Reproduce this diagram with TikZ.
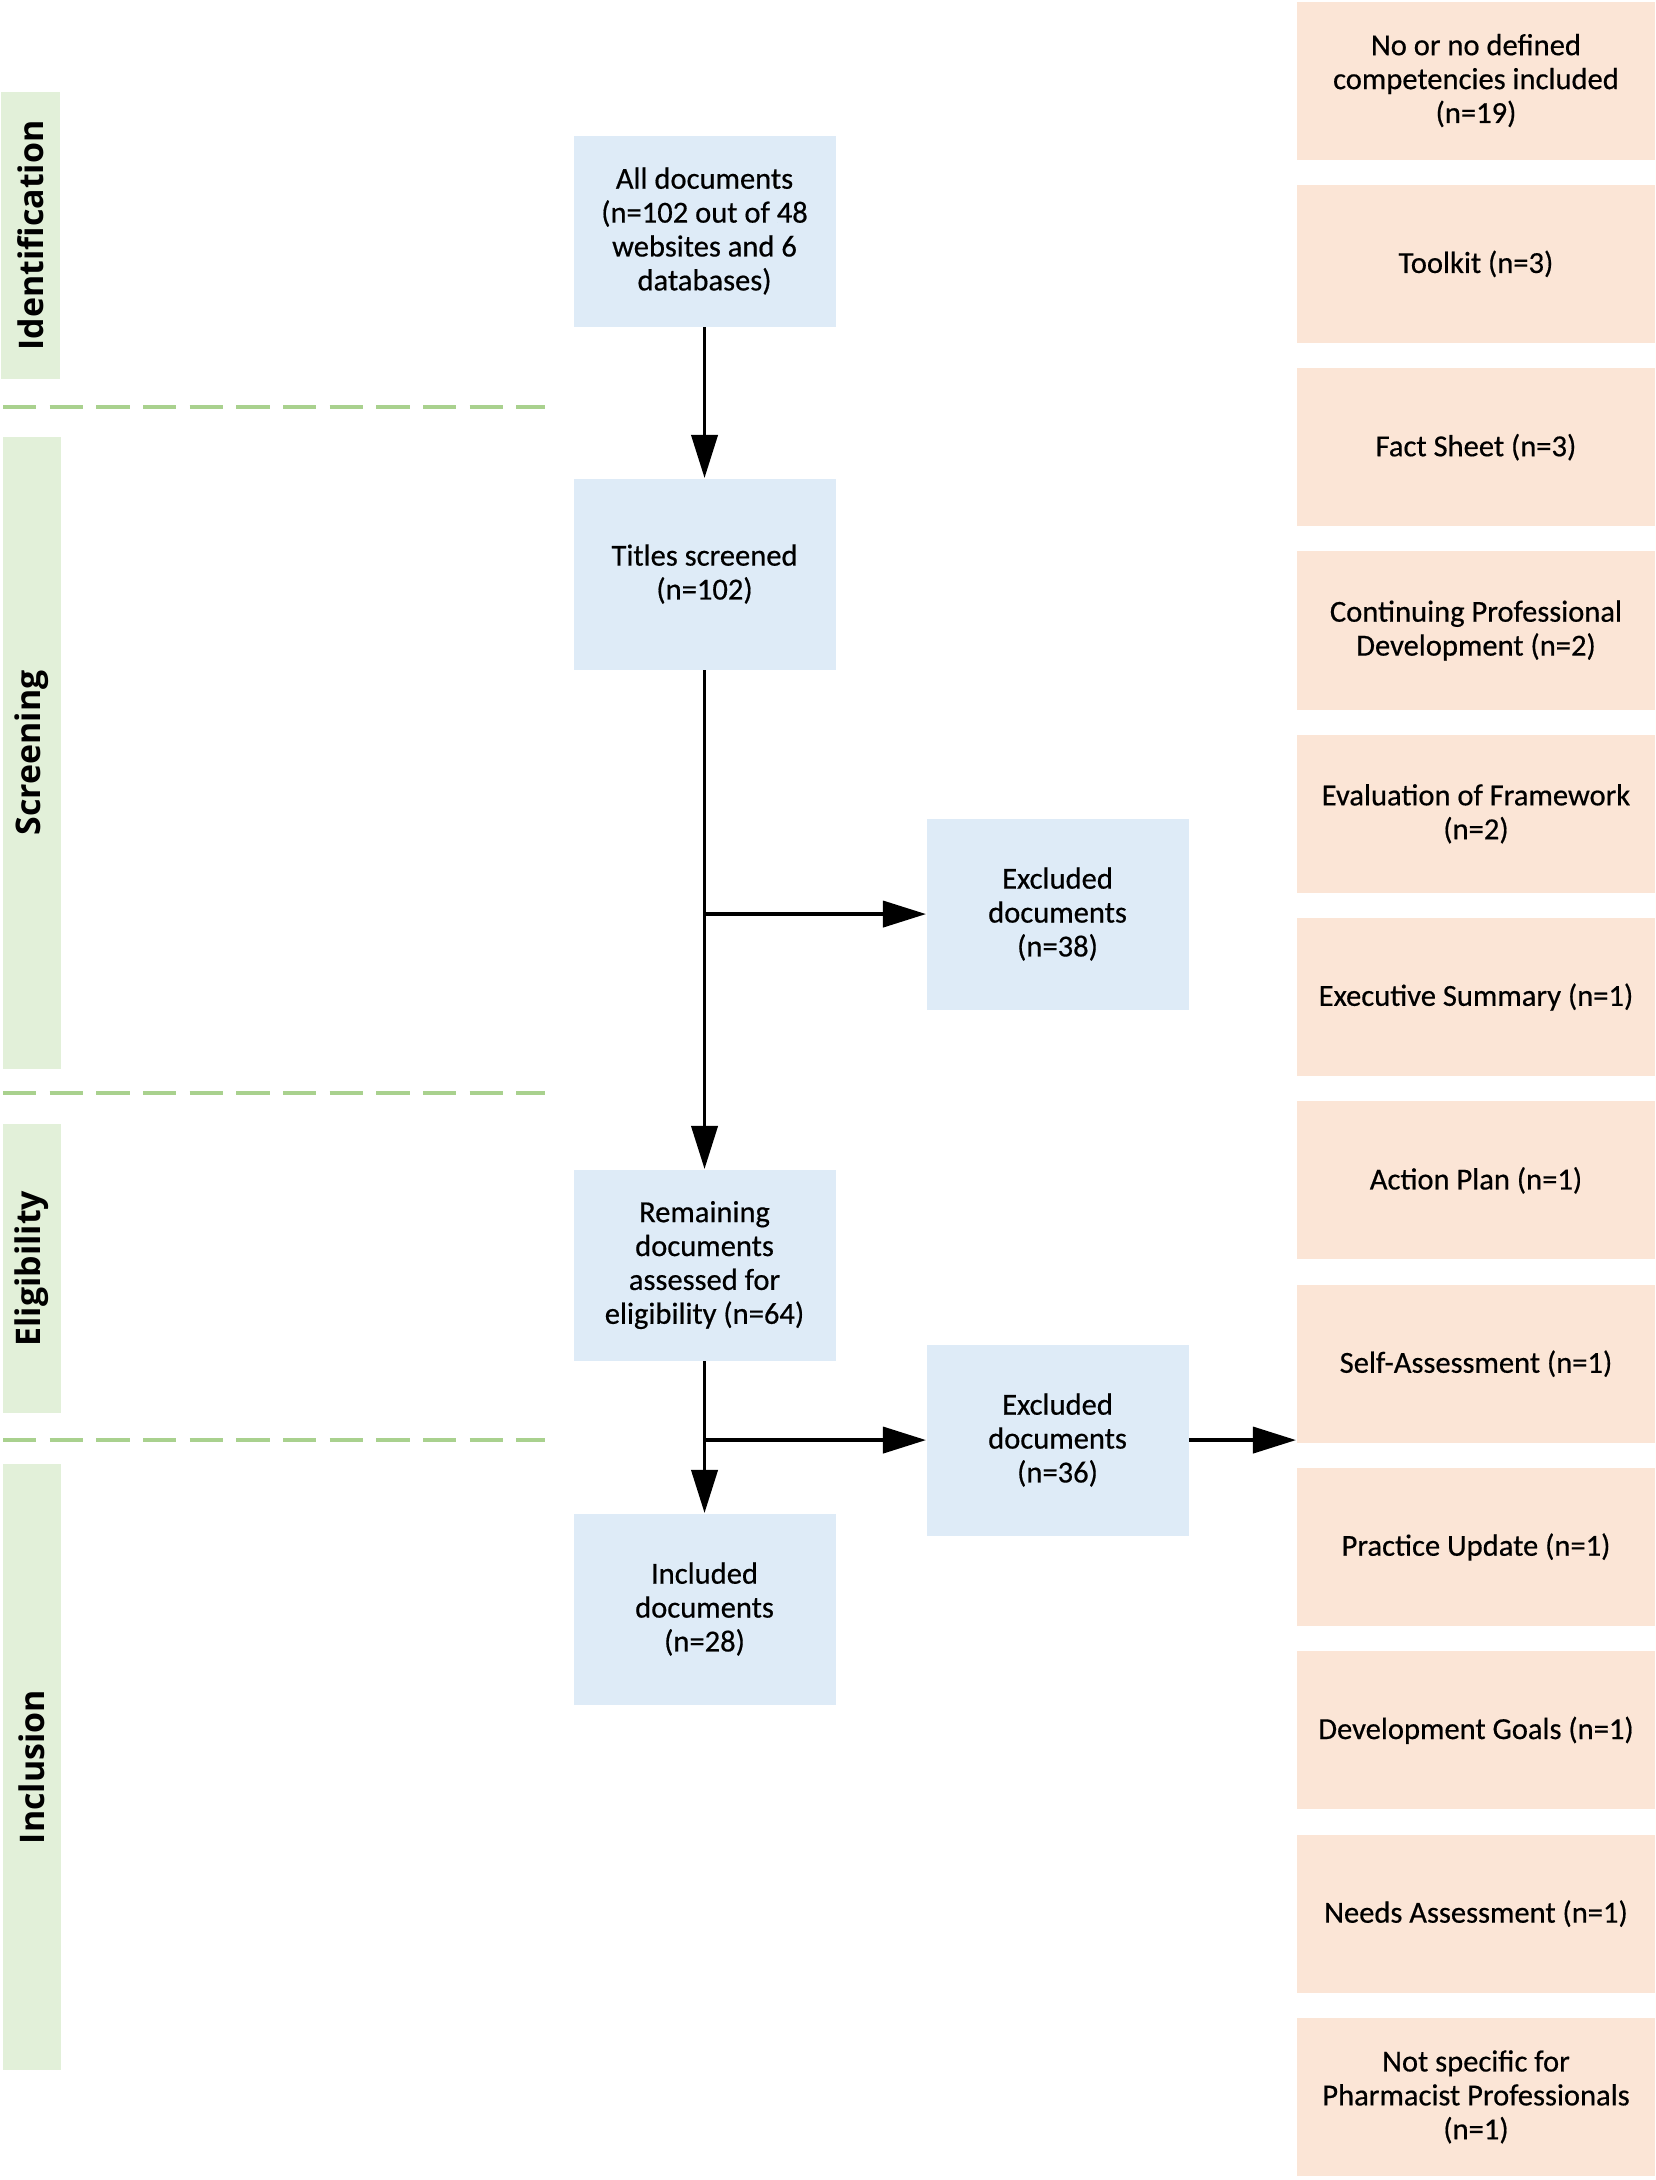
\documentclass[tikz,border=0pt]{standalone}
\usepackage{fontspec}
\setmainfont{Carlito}[FakeBold=0.5]
\newfontfamily\phasefont{Open Sans}
\usetikzlibrary{arrows.meta,calc}
\definecolor{boxblue}{HTML}{DEEBF7}
\definecolor{boxpeach}{HTML}{FBE5D6}
\definecolor{phasegreen}{HTML}{E2F0D9}
\definecolor{dashgreen}{HTML}{A9D18E}
\tikzset{
  bluebox/.style={fill=boxblue, draw=none, inner sep=0pt, minimum width=94.3pt, minimum height=68.76pt,
    align=center, anchor=north west, font=\fontsize{11}{12.2}\selectfont},
  peachbox/.style={fill=boxpeach, draw=none, inner sep=0pt, minimum width=129.2pt, minimum height=56.9pt,
    align=center, anchor=north west, font=\fontsize{11}{12.2}\selectfont},
  phasebar/.style={fill=phasegreen, draw=none, inner sep=0pt, rotate=90, minimum height=20.9pt,
    font=\phasefont\bfseries\fontsize{12.2}{14}\selectfont},
  sepline/.style={draw=dashgreen, line width=1.45pt, dash pattern=on 12pt off 4.8pt},
  flow/.style={draw=black, line width=1.3pt, -{Triangle[length=15.5pt,width=9.4pt]}},
}
\begin{document}
\begin{tikzpicture}[x=0.36pt, y=-0.36pt]
\useasboundingbox (0,0) rectangle (1656,2180);

% phase bars
\node[phasebar, minimum width=103.3pt] (pid) at (30.5,235.5) {Identification};
\node[phasebar, minimum width=227.5pt] (psc) at (32,753) {Screening};
\node[phasebar, minimum width=104.0pt] (pel) at (32,1268.5) {Eligibility};
\node[phasebar, minimum width=218.2pt] (pin) at (32,1767) {Inclusion};

% separators
\coordinate (d1a) at (3,407);  \coordinate (d1b) at (545,407);
\coordinate (d2a) at (3,1093); \coordinate (d2b) at (545,1093);
\coordinate (d3a) at (3,1440); \coordinate (d3b) at (545,1440);
\draw[sepline] (d1a) -- (d1b);
\draw[sepline] (d2a) -- (d2b);
\draw[sepline] (d3a) -- (d3b);

% main flow boxes
\node[bluebox] (A) at (573,135) {All documents\\(n=102 out of 48\\websites and 6\\databases)};
\node[bluebox] (T) at (573,478) {Titles screened\\(n=102)};
\node[bluebox] (R) at (573,1169) {Remaining\\documents\\assessed for\\eligibility (n=64)};
\node[bluebox] (I) at (573,1513) {Included\\documents\\(n=28)};
\node[bluebox] (E1) at (926,818) {Excluded\\documents\\(n=38)};
\node[bluebox] (E2) at (926,1344) {Excluded\\documents\\(n=36)};

% right column
\node[peachbox] (S1) at (1296,1) {No or no defined\\competencies included\\(n=19)};
\node[peachbox] (S2) at (1296,184.3) {Toolkit (n=3)};
\node[peachbox] (S3) at (1296,367.6) {Fact Sheet (n=3)};
\node[peachbox] (S4) at (1296,550.9) {Continuing Professional\\Development (n=2)};
\node[peachbox] (S5) at (1296,734.2) {Evaluation of Framework\\(n=2)};
\node[peachbox] (S6) at (1296,917.5) {Executive Summary (n=1)};
\node[peachbox] (S7) at (1296,1100.8) {Action Plan (n=1)};
\node[peachbox] (S8) at (1296,1284.1) {Self-Assessment (n=1)};
\node[peachbox] (S9) at (1296,1467.4) {Practice Update (n=1)};
\node[peachbox] (S10) at (1296,1650.7) {Development Goals (n=1)};
\node[peachbox] (S11) at (1296,1834) {Needs Assessment (n=1)};
\node[peachbox] (S12) at (1296,2017.3) {Not specific for\\Pharmacist Professionals\\(n=1)};

% connectors
\draw[flow] (A.south) -- (T.north);
\draw[flow] (T.south) -- (R.north);
\draw[flow] (T.south |- E1.west) -- (E1.west);
\draw[flow] (R.south) -- (I.north);
\draw[flow] (R.south |- E2.west) -- (E2.west);
\draw[flow] (E2.east) -- (E2.east -| S8.west);
\end{tikzpicture}
\end{document}
